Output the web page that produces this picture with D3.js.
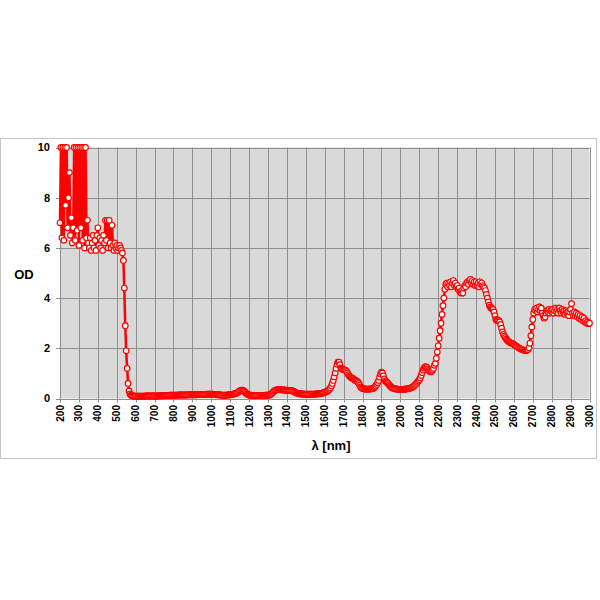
<!DOCTYPE html>
<html>
<head>
<meta charset="utf-8">
<script src="https://cdn.jsdelivr.net/npm/d3@7"></script>
<style>
    body { margin: 0; background: #fff; }
    text { font-family: "Liberation Sans", Arial, sans-serif; font-weight: bold; fill: #000; }
</style>
</head>
<body>
<div id="mydiv"></div>
<script>

var odUv = [
    7.0, 10, 6.4, 10, 6.3, 10, 7.7, 10, 6.8, 8.0,
    9.0, 6.5, 7.2, 6.2, 6.8, 10, 6.3, 10, 6.7, 10,
    6.1, 10, 6.8, 10, 6.3, 10, 6.0, 10, 6.4, 7.1,
    6.2, 6.0, 6.4, 5.9, 6.2, 6.5, 6.0, 6.3, 5.9, 6.5,
    6.8, 6.1, 6.4, 6.0, 6.3, 5.9, 6.5, 6.2, 7.1, 6.3,
    7.1, 6.0, 7.1, 6.2, 6.0, 6.9, 6.1, 5.9, 6.2, 6.0,
    6.1, 5.9, 6.0, 6.1, 6.0, 5.9, 5.8, 5.5, 4.4, 2.9,
    1.9, 1.2
];  // 200 - 555

var odVis = [
    0.6, 0.3, 0.18, 0.13, 0.11, 0.1, 0.1, 0.09,
    0.09, 0.09, 0.09, 0.09, 0.09, 0.09, 0.09, 0.09, 0.09, 0.09, 0.1, 0.1, 0.1, 0.1, 0.1, 0.1, 0.1, 0.1, 0.1, 0.1,
    0.1, 0.1, 0.1, 0.1, 0.1, 0.11, 0.11, 0.11, 0.11, 0.11, 0.12, 0.12, 0.12, 0.12, 0.12, 0.12, 0.13, 0.13, 0.13, 0.13,
    0.13, 0.13, 0.13, 0.13, 0.13, 0.14, 0.14, 0.14, 0.14, 0.14, 0.14, 0.14, 0.14, 0.14, 0.14, 0.15, 0.15, 0.15, 0.15, 0.15,
    0.15, 0.15, 0.15, 0.15, 0.15, 0.15, 0.16, 0.16, 0.16, 0.16, 0.16, 0.16, 0.16, 0.16, 0.16, 0.17, 0.17, 0.17, 0.17, 0.17,
    0.17, 0.17, 0.17, 0.16, 0.16, 0.16, 0.15, 0.15, 0.15, 0.14, 0.14, 0.13, 0.13, 0.13, 0.13, 0.13, 0.13, 0.14, 0.14, 0.15
];  // 560 - 1095

var odNir = [
    0.15, 0.16, 0.16, 0.17, 0.18, 0.19, 0.2, 0.22, 0.24, 0.27, 0.3, 0.32, 0.33, 0.33, 0.31, 0.28, 0.24, 0.2, 0.17, 0.15,
    0.14, 0.13, 0.13, 0.12, 0.12, 0.12, 0.12, 0.12, 0.12, 0.12, 0.12, 0.12, 0.12, 0.12, 0.12, 0.12, 0.12, 0.13, 0.13, 0.13,
    0.13, 0.14, 0.15, 0.17, 0.2, 0.24, 0.28, 0.31, 0.33, 0.34, 0.35, 0.35, 0.35, 0.35, 0.34, 0.34, 0.34, 0.34, 0.33, 0.33,
    0.33, 0.33, 0.32, 0.32, 0.32, 0.31, 0.3, 0.28, 0.26, 0.24, 0.22, 0.21, 0.2, 0.19, 0.19, 0.18, 0.18, 0.18, 0.17, 0.17,
    0.17, 0.17, 0.17, 0.17, 0.17, 0.17, 0.17, 0.17, 0.17, 0.17, 0.18, 0.18, 0.18, 0.19, 0.19, 0.2, 0.2, 0.21, 0.22, 0.23,
    0.24, 0.26, 0.28, 0.3, 0.33, 0.37, 0.42, 0.5, 0.6, 0.72, 0.86, 1.02, 1.2, 1.36, 1.45, 1.45, 1.35, 1.22, 1.18, 1.16,
    1.15, 1.14, 1.12, 1.08, 1.02, 0.95, 0.9, 0.86, 0.83, 0.81, 0.79, 0.76, 0.73, 0.71, 0.69, 0.66, 0.6, 0.53, 0.46, 0.42,
    0.4, 0.39, 0.38, 0.37, 0.37, 0.37, 0.37, 0.37, 0.38, 0.38, 0.39, 0.4, 0.42, 0.46, 0.5, 0.56, 0.63, 0.72, 0.85, 0.98,
    1.05, 1.02, 0.9, 0.78, 0.7, 0.66, 0.64, 0.6, 0.55, 0.5, 0.46, 0.43, 0.41, 0.4, 0.39, 0.38, 0.37, 0.37, 0.36, 0.36
];  // 1100 - 1995

var odIr = [
    0.36, 0.36, 0.36, 0.36, 0.37, 0.37, 0.38, 0.38, 0.39, 0.4, 0.41, 0.42, 0.44, 0.46, 0.49, 0.52, 0.56, 0.6, 0.65, 0.7,
    0.75, 0.82, 0.92, 1.03, 1.13, 1.21, 1.26, 1.27, 1.24, 1.18, 1.12, 1.08, 1.06, 1.08, 1.13, 1.2, 1.32, 1.4, 1.6, 1.85,
    2.1, 2.4, 2.7, 3.0, 3.35, 3.7, 4.0, 4.35, 4.55, 4.6, 4.45, 4.6, 4.5, 4.65, 4.45, 4.6, 4.7, 4.5, 4.6, 4.45,
    4.5, 4.35, 4.4, 4.25, 4.2, 4.3, 4.2, 4.4, 4.5, 4.45, 4.6, 4.65, 4.55, 4.7, 4.75, 4.6, 4.7, 4.55, 4.65, 4.5,
    4.65, 4.5, 4.6, 4.45, 4.65, 4.55, 4.6, 4.5, 4.45, 4.4, 4.3, 4.15, 4.0, 3.85, 3.72, 3.65, 3.6, 3.58, 3.55, 3.45,
    3.3, 3.15, 3.1, 3.12, 3.1, 3.05, 2.95, 2.8, 2.65, 2.55, 2.48, 2.42, 2.36, 2.32, 2.28, 2.25, 2.23, 2.21, 2.2, 2.18,
    2.16, 2.13, 2.1, 2.08, 2.05, 2.02, 2.0, 1.98, 1.96, 1.95, 1.93, 1.92, 1.91, 1.91, 1.92, 1.95, 2.02, 2.2, 2.5, 2.85,
    3.15, 3.4, 3.55, 3.5, 3.6, 3.45, 3.55, 3.65, 3.5, 3.6, 3.4, 3.3, 3.2, 3.25, 3.4, 3.5, 3.45, 3.55, 3.4, 3.5,
    3.45, 3.55, 3.4, 3.5, 3.6, 3.45, 3.55, 3.4, 3.6, 3.5, 3.4, 3.55, 3.45, 3.5, 3.35, 3.5, 3.4, 3.45, 3.3, 3.45,
    3.55, 3.78, 3.4, 3.3, 3.45, 3.3, 3.4, 3.25, 3.35, 3.2, 3.3, 3.15, 3.25, 3.1, 3.2, 3.05, 3.1, 3.0, 3.05, 2.98,
    3.0
];  // 2000 - 3000

var xTicks = d3.range(200, 3001, 100);
var yTicks = [0, 2, 4, 6, 8, 10];

var overAllWidth = 600;
var overAllHeight = 600;

function main() {
    var od = odUv.concat(odVis, odNir, odIr);
    var lambda = d3.range(200, 3001, 5);
    var data = lambda.map(function (l, i) { return { x: l, y: od[i] }; });

    var svg = d3.select('#mydiv')
        .append('svg')
        .attr('width', overAllWidth)
        .attr('height', overAllHeight);

    // outer frame
    svg.append('rect')
        .attr('x', 0.5).attr('y', 138.5)
        .attr('width', 596).attr('height', 320)
        .attr('fill', 'none')
        .attr('stroke', '#c4c4c4');

    var x = d3.scaleLinear().domain([200, 3000]).range([60, 589.5]);
    var y = d3.scaleLinear().domain([0, 10]).range([398.5, 147.5]);

    svg.append('rect')
        .attr('x', x(200)).attr('y', y(10))
        .attr('width', x(3000) - x(200))
        .attr('height', y(0) - y(10))
        .attr('fill', '#d9d9d9');

    // grid
    svg.append('g')
        .selectAll('line')
        .data(xTicks)
        .enter()
        .append('line')
        .attr('x1', function (d) { return Math.round(x(d)) + 0.5; })
        .attr('x2', function (d) { return Math.round(x(d)) + 0.5; })
        .attr('y1', y(10))
        .attr('y2', y(0) + 4)
        .attr('stroke', '#8e8e8e');

    svg.append('g')
        .selectAll('line')
        .data(yTicks)
        .enter()
        .append('line')
        .attr('x1', x(200) - 4)
        .attr('x2', x(3000))
        .attr('y1', function (d) { return Math.round(y(d)) + 0.5; })
        .attr('y2', function (d) { return Math.round(y(d)) + 0.5; })
        .attr('stroke', '#8e8e8e');

    // tick labels
    svg.append('g')
        .selectAll('text')
        .data(yTicks)
        .enter()
        .append('text')
        .attr('x', 50)
        .attr('y', function (d) { return y(d); })
        .attr('dy', '0.35em')
        .attr('text-anchor', 'end')
        .style('font-size', '11px')
        .text(function (d) { return d; });

    svg.append('g')
        .selectAll('text')
        .data(xTicks)
        .enter()
        .append('text')
        .attr('transform', function (d) {
            return 'translate(' + [x(d), 405] + ') rotate(-90)';
        })
        .attr('dy', '0.35em')
        .attr('text-anchor', 'end')
        .style('font-size', '10px')
        .text(function (d) { return d; });

    svg.append('text')
        .attr('x', 24)
        .attr('y', 279)
        .attr('text-anchor', 'middle')
        .style('font-size', '13px')
        .text('OD');

    svg.append('text')
        .attr('x', 331)
        .attr('y', 450)
        .attr('text-anchor', 'middle')
        .style('font-size', '13px')
        .text('λ [nm]');

    // series
    var line = d3.line()
        .x(function (d) { return x(d.x); })
        .y(function (d) { return y(d.y); });

    svg.append('path')
        .datum(data)
        .attr('d', line)
        .attr('fill', 'none')
        .attr('stroke', '#ff0000')
        .attr('stroke-width', 2.5);

    svg.append('g')
        .selectAll('circle')
        .data(data)
        .enter()
        .append('circle')
        .attr('cx', function (d) { return x(d.x); })
        .attr('cy', function (d) { return y(d.y); })
        .attr('r', 2.8)
        .attr('fill', '#ffffff')
        .attr('stroke', '#ff0000')
        .attr('stroke-width', 1.2);
}

main();
</script>
</body>
</html>
